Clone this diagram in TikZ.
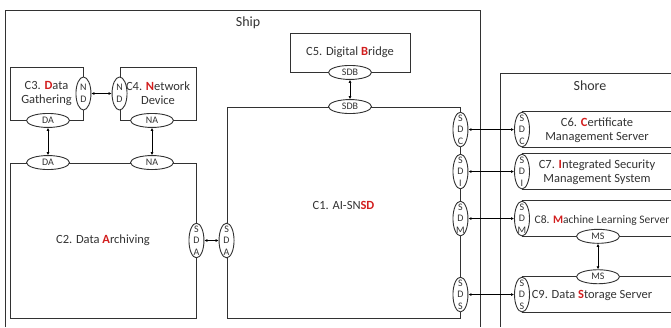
\documentclass[tikz,border=0pt]{standalone}
\usepackage{fontspec}
\setmainfont{Carlito}
\usetikzlibrary{arrows.meta,positioning,shapes.geometric}
\definecolor{keyred}{RGB}{210,30,30}
\definecolor{linegray}{RGB}{50,50,50}
\newcommand{\hlkey}[1]{\textcolor{keyred}{\textbf{#1}}}

\begin{document}
\begin{tikzpicture}[
  x=1pt,y=-1pt,
  every node/.style={font=\fontsize{12.5}{14}\selectfont,text=black!80},
  frame/.style={draw=linegray,line width=0.9pt},
  box/.style={draw=linegray,line width=0.9pt,align=center,inner sep=0pt},
  lbl/.style={align=center,inner sep=0pt},
  hport/.style={ellipse,draw=linegray,line width=0.9pt,fill=white,minimum width=43pt,minimum height=14pt,inner sep=0pt,font=\fontsize{10}{11}\selectfont},
  vport/.style={ellipse,draw=linegray,line width=0.9pt,fill=white,minimum width=15pt,minimum height=33pt,inner xsep=0pt,inner ysep=-2.5pt,align=center,font=\fontsize{10}{11.5}\selectfont},
  arr/.style={{Latex[length=3pt,width=3pt]}-{Latex[length=3pt,width=3pt]},line width=0.8pt}
]
\useasboundingbox (0,0) rectangle (671,327);
% ship and shore areas
\draw[frame] (5,327) |- (480,10) -- (480,327);
\draw[frame] (671,73) -| (500,327);
\node (ship) at (248,23) {\fontsize{14}{16}\selectfont Ship};
\node (shore) at (590,86) {\fontsize{14}{16}\selectfont Shore};

% ship components
\node[box,minimum width=73pt,minimum height=53pt] (c3) at (46.5,93.5) {C3. \hlkey{D}ata\\Gathering};
\node[box,minimum width=76pt,minimum height=53pt] (c4) at (158,93.5) {C4. \hlkey{N}etwork\\Device};
\node[box,minimum width=186pt,minimum height=155pt] (c2) at (103,240.5) {C2. Data \hlkey{A}rchiving};
\node[box,minimum width=233pt,minimum height=211pt] (c1) at (343.5,212.5) {};
\node[lbl] (c1t) at ([yshift=7pt]c1.center) {C1. AI-SN\hlkey{SD}};
\node[box,minimum width=120pt,minimum height=39pt] (c5) at (350,52.5) {C5. Digital \hlkey{B}ridge};

% shore components
\coordinate (sx) at (522,0);
\coordinate (mx) at (598,0);
\node[lbl] (t6) at (597,130) {C6. \hlkey{C}ertificate\\Management Server};
\node[lbl] (t7) at (597,172) {C7. \hlkey{I}ntegrated Security\\Management System};
\node[lbl,font=\fontsize{11.5}{14}\selectfont] (t8) at (602,220) {C8. \hlkey{M}achine Learning Server};
\node[lbl] (t9) at (592,295) {C9. Data \hlkey{S}torage Server};

% ports
\node[vport] (nd3) at (c3.east) {N\\D};
\node[vport] (nd4) at (c4.west) {N\\D};
\node[hport] (da3) at ([xshift=1.5pt]c3.south) {DA};
\node[hport] (na4) at ([xshift=-6pt]c4.south) {NA};
\node[hport] (da2) at (da3 |- c2.north) {DA};
\node[hport] (na2) at (na4 |- c2.north) {NA};
\node[vport] (sda2) at (c2.east) {S\\D\\A};
\node[vport] (sda1) at (c2.east -| c1.west) {S\\D\\A};
\node[hport] (sdb5) at (c5.south) {SDB};
\node[hport] (sdb1) at (c5.south |- c1.north) {SDB};
\node[vport] (sdc1) at ([yshift=-23pt]c1.north east) {S\\D\\C};
\node[vport] (sdi1) at ([yshift=-65pt]c1.north east) {S\\D\\I};
\node[vport] (sdm1) at ([yshift=-112pt]c1.north east) {S\\D\\M};
\node[vport] (sds1) at ([yshift=-188pt]c1.north east) {S\\D\\S};
\node[vport] (sdc6) at (sdc1 -| sx) {S\\D\\C};
\node[vport] (sdi7) at (sdi1 -| sx) {S\\D\\I};
\node[vport] (sdm8) at (sdm1 -| sx) {S\\D\\M};
\node[vport] (sds9) at (sds1 -| sx) {S\\D\\S};

% server outlines
\foreach \s in {sdc6,sdi7,sdm8,sds9}{
  \draw[frame] (\s.north) -- ++(149,0);
  \draw[frame] (\s.south) -- ++(149,0);
}
\node[hport] (ms8) at (mx |- sdm8.south) {MS};
\node[hport] (ms9) at (mx |- sds9.north) {MS};

% links
\draw[arr] (nd3) -- (nd4);
\draw[arr] (da3) -- (da2);
\draw[arr] (na4) -- (na2);
\draw[arr] (sda2) -- (sda1);
\draw[arr] (sdb5) -- (sdb1);
\draw[arr] (sdc1) -- (sdc6);
\draw[arr] (sdi1) -- (sdi7);
\draw[arr] (sdm1) -- (sdm8);
\draw[arr] (sds1) -- (sds9);
\draw[arr] (ms8) -- (ms9);
\end{tikzpicture}
\end{document}
